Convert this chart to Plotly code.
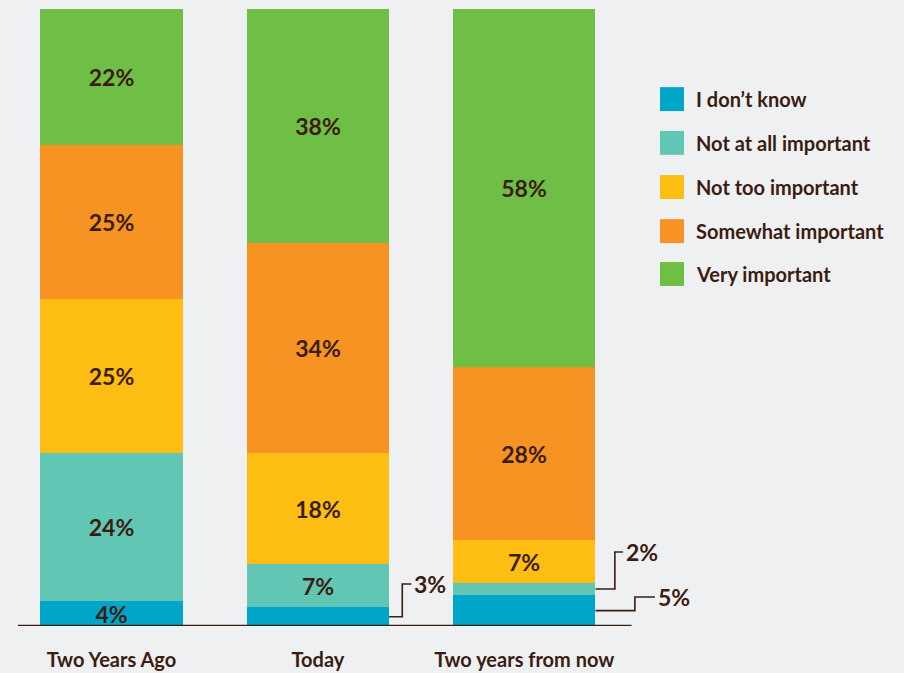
import plotly.graph_objects as go

# Survey periods (x categories)
categories = ["Two Years Ago", "Today", "Two years from now"]

# Response shares (%) per period, stacked bottom to top
series_names = ["I don’t know", "Not at all important", "Not too important",
                "Somewhat important", "Very important"]
dont_know = [4, 3, 5]
not_at_all = [24, 7, 2]
not_too = [25, 18, 7]
somewhat = [25, 34, 28]
very = [22, 38, 58]
series_values = [dont_know, not_at_all, not_too, somewhat, very]

colors = ["#00A6C9", "#62C6B5", "#FDBD13", "#F69322", "#6FBE45"]
TEXT = "#3B1C10"
BG = "#EFF0F2"
BAR_W = 0.69
PCT_FONT = dict(family="Lato", size=23, color=TEXT, weight="bold")
SANS_FONT = dict(family="Lato", size=20, color=TEXT, weight="bold")

# Small segments labelled outside the bar with an elbow leader line:
# (category index, series index, elbow offset, end offset, label height in %)
callouts = [
    (1, 0, 0.064, 0.108, 6.8),
    (2, 1, 0.094, 0.133, 12.0),
    (2, 0, 0.191, 0.288, 4.7),
]
outside = {(c, s) for c, s, *_ in callouts}

xs = list(range(len(categories)))
fig = go.Figure()

for s, (name, vals, col) in enumerate(zip(series_names, series_values, colors)):
    labels = ["" if (c, s) in outside else f"{v}%" for c, v in enumerate(vals)]
    fig.add_trace(go.Bar(
        x=xs, y=vals, name=name, width=BAR_W,
        marker=dict(color=col, line=dict(width=0)),
        text=labels, textposition="inside", insidetextanchor="middle",
        textangle=0, textfont=PCT_FONT,
        showlegend=False, hoverinfo="skip",
    ))

# Leader lines and labels for thin segments
for c, s, elbow, end, label_y in callouts:
    base = sum(series_values[k][c] for k in range(s))
    mid = base + series_values[s][c] / 2
    edge = xs[c] + BAR_W / 2
    fig.add_shape(
        type="path", xref="x", yref="y",
        path=(f"M {edge},{mid} L {edge + elbow},{mid} "
              f"L {edge + elbow},{label_y} L {edge + end},{label_y}"),
        line=dict(color=TEXT, width=1.6),
    )
    fig.add_annotation(
        x=edge + end, y=label_y, xref="x", yref="y",
        text=f"{series_values[s][c]}%", showarrow=False,
        xanchor="left", yanchor="middle", xshift=1,
        font=PCT_FONT,
    )

# Baseline under the bars
fig.add_shape(type="line", xref="x", yref="y",
              x0=-0.453, x1=2.52, y0=0, y1=0,
              line=dict(color=TEXT, width=2.5))

# Legend: coloured squares with labels, top to bottom
legend_rows = [0.854, 0.783, 0.7115, 0.640, 0.5705]
for name, col, ry in zip(series_names, colors, legend_rows):
    fig.add_shape(type="rect", xref="paper", yref="paper",
                  x0=0.7246, x1=0.7517, y0=ry - 0.0194, y1=ry + 0.0194,
                  fillcolor=col, line=dict(width=0))
    fig.add_annotation(x=0.7635, y=ry, xref="paper", yref="paper",
                       text=name, showarrow=False, xanchor="left", yanchor="middle",
                       font=SANS_FONT)

fig.update_layout(
    barmode="stack",
    width=904, height=673,
    margin=dict(l=18, r=0, t=9, b=47),
    paper_bgcolor=BG, plot_bgcolor=BG,
    bargap=0,
    xaxis=dict(
        range=[-0.453, 3.84], tickvals=xs, ticktext=categories,
        showline=False, showgrid=False, zeroline=False, ticks="",
        ticklabelstandoff=20, tickfont=SANS_FONT,
        fixedrange=True,
    ),
    yaxis=dict(range=[0, 100], visible=False, fixedrange=True),
    uniformtext=dict(minsize=23, mode="show"),
    showlegend=False,
)

fig.write_html("out.html")
